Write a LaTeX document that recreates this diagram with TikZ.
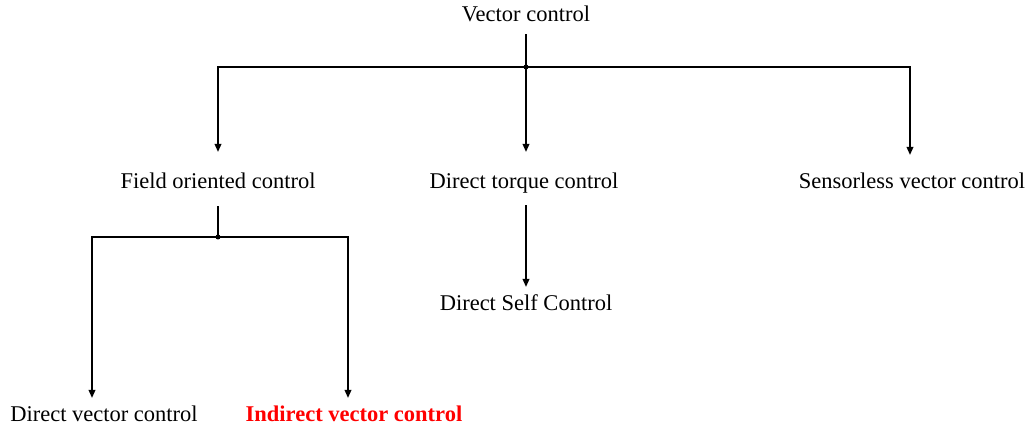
\documentclass[tikz,border=0pt]{standalone}
\usepackage{fontspec}
\setmainfont{Liberation Serif}
\usetikzlibrary{arrows.meta}
\begin{document}
\begin{tikzpicture}[x=1pt,y=-1pt,
  lbl/.style={inner sep=0pt,outer sep=0pt,text height=18.5pt,text depth=2.5pt,font=\fontsize{22.5}{26}\selectfont},
  conn/.style={line width=1.8pt,line cap=rect},
  arr/.style={line width=1.8pt,-{Triangle[length=8pt,width=6.5pt]}},
  dot/.style={circle,fill=black,inner sep=0pt,minimum size=5pt}]
\useasboundingbox (0,0) rectangle (1029,427);
% nodes
\node[lbl] (vc) at (526,14) {Vector control};
\node[lbl] (foc) at (218,181) {Field oriented control};
\node[lbl] (dtc) at (524,181) {Direct torque control};
\node[lbl] (svc) at (912,181) {Sensorless vector control};
\node[lbl] (dsc) at (526,303) {Direct Self Control};
\node[lbl] (dvc) at (104,414) {Direct vector control};
\node[lbl,text=red,font=\fontsize{22.5}{26}\selectfont\bfseries] (ivc) at (354,414) {Indirect vector control};
% junctions
\coordinate (j1) at (526,67);
\coordinate (j1l) at (218,67);
\coordinate (j1r) at (910,67);
\coordinate (j2) at (218,237);
\coordinate (j2l) at (92,237);
\coordinate (j2r) at (348,237);
% top tree
\draw[conn] ([yshift=-10.5pt]vc.south -| j1) -- (j1);
\draw[conn] (j1l) -- (j1r);
\draw[arr] (j1l) -- ([yshift=18.5pt]foc.north -| j1l);
\draw[arr] (j1) -- ([yshift=18.5pt]dtc.north -| j1);
\draw[arr] (j1r) -- ([yshift=15.5pt]svc.north -| j1r);
\node[dot] at (j1) {};
% FOC subtree
\draw[conn] ([yshift=-15.5pt]foc.south -| j2) -- (j2);
\draw[conn] (j2l) -- (j2r);
\draw[arr] (j2l) -- ([yshift=5.5pt]dvc.north -| j2l);
\draw[arr] (j2r) -- ([yshift=5.5pt]ivc.north -| j2r);
\node[dot] at (j2) {};
% DTC subtree
\draw[arr] ([yshift=-14pt]dtc.south -| j1) -- ([yshift=5.5pt]dsc.north -| j1);
\end{tikzpicture}
\end{document}
